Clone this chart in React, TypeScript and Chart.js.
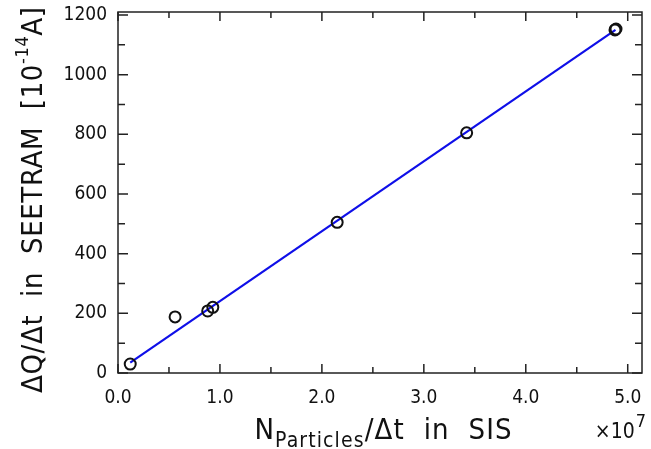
import React, { useEffect, useRef } from "react";
import { Chart, registerables } from "chart.js";

Chart.register(...registerables);

// Data (x in units of 1e7 particles/s, y in 1e-14 A)
const pointX = [0.12, 0.56, 0.88, 0.93, 2.15, 3.42, 4.875, 4.885];
const pointY = [30, 188, 208, 220, 505, 805, 1150, 1153];
const fitX = [0.12, 4.88];
const fitY = [35, 1150];
const xMajorTicks = [0, 1, 2, 3, 4, 5];
const xMinorTicks = [0.5, 1.5, 2.5, 3.5, 4.5];
const yMajorTicks = [0, 200, 400, 600, 800, 1000, 1200];
const yMinorTicks = [100, 300, 500, 700, 900, 1100];
const xRange = [0, 5.14];
const yRange = [0, 1210];

const FONT = "'DejaVu Sans Condensed', 'DejaVu Sans', sans-serif";

type Part = { text: string; size: number; dy: number };

function drawRich(
  ctx: CanvasRenderingContext2D,
  parts: Part[],
  cx: number,
  baseY: number,
  target: number | null
) {
  let natural = 0;
  let nChars = 0;
  for (const p of parts) {
    ctx.font = `${p.size}px ${FONT}`;
    (ctx as any).letterSpacing = "0px";
    natural += ctx.measureText(p.text).width;
    nChars += p.text.length;
  }
  let ls = 0;
  if (target != null && nChars > 1) ls = (target - natural) / (nChars - 1);
  const total = natural + ls * (nChars - 1);
  let x = cx - total / 2;
  ctx.textAlign = "left";
  ctx.textBaseline = "alphabetic";
  for (const p of parts) {
    ctx.font = `${p.size}px ${FONT}`;
    (ctx as any).letterSpacing = `${ls}px`;
    ctx.fillText(p.text, x, baseY + p.dy);
    x += ctx.measureText(p.text).width;
  }
  (ctx as any).letterSpacing = "0px";
}

const framePlugin = {
  id: "framePlugin",
  afterDraw(chart: any) {
    const ctx: CanvasRenderingContext2D = chart.ctx;
    const { left, right, top, bottom } = chart.chartArea;
    const xs = chart.scales.x;
    const ys = chart.scales.y;
    ctx.save();
    ctx.strokeStyle = "#222";
    ctx.lineWidth = 1.5;
    ctx.strokeRect(left, top, right - left, bottom - top);
    const major = 9;
    const minor = 6;
    ctx.beginPath();
    const xt = (v: number, len: number) => {
      const px = xs.getPixelForValue(v);
      ctx.moveTo(px, bottom);
      ctx.lineTo(px, bottom - len);
      ctx.moveTo(px, top);
      ctx.lineTo(px, top + len);
    };
    const yt = (v: number, len: number) => {
      const py = ys.getPixelForValue(v);
      ctx.moveTo(left, py);
      ctx.lineTo(left + len, py);
      ctx.moveTo(right, py);
      ctx.lineTo(right - len, py);
    };
    xMajorTicks.forEach((v) => xt(v, major));
    xMinorTicks.forEach((v) => xt(v, minor));
    yMajorTicks.forEach((v) => yt(v, major + 1));
    yMinorTicks.forEach((v) => yt(v, minor + 1));
    ctx.stroke();

    ctx.fillStyle = "#111";
    // x title
    drawRich(
      ctx,
      [
        { text: "N", size: 29, dy: 0 },
        { text: "Particles", size: 21, dy: 8 },
        { text: "/\u0394t  in  SIS", size: 29, dy: 0 },
      ],
      (left + right) / 2 + 3,
      439,
      257
    );
    // y title (rotated)
    ctx.save();
    ctx.translate(42, 200);
    ctx.rotate(-Math.PI / 2);
    drawRich(
      ctx,
      [
        { text: "\u0394Q/\u0394t  in  SEETRAM  [10", size: 29, dy: 0 },
        { text: "-14", size: 18, dy: -14 },
        { text: "A]", size: 29, dy: 0 },
      ],
      0,
      0,
      386
    );
    ctx.restore();
    // multiplier
    ctx.textAlign = "right";
    ctx.textBaseline = "alphabetic";
    ctx.font = `18px ${FONT}`;
    const w7 = ctx.measureText("7").width;
    ctx.fillText("7", 646, 427);
    ctx.font = `21px ${FONT}`;
    ctx.fillText("\u00d710", 646 - w7 - 1, 438);
    ctx.restore();
  },
};

export default function App() {
  const ref = useRef<HTMLCanvasElement | null>(null);
  useEffect(() => {
    document.body.style.margin = "0";
    const canvas = ref.current;
    if (!canvas) return;
    const chart = new Chart(canvas, {
      type: "scatter",
      data: {
        datasets: [
          {
            label: "data",
            data: pointX.map((x, i) => ({ x, y: pointY[i] })),
            showLine: false,
            pointStyle: "circle",
            pointRadius: 5.5,
            pointBorderWidth: 2,
            pointBackgroundColor: "rgba(0,0,0,0)",
            pointBorderColor: "#111",
          },
          {
            label: "fit",
            data: fitX.map((x, i) => ({ x, y: fitY[i] })),
            showLine: true,
            pointRadius: 0,
            borderColor: "#0f0fe8",
            borderWidth: 2.2,
          },
        ],
      },
      options: {
        responsive: false,
        animation: false,
        layout: { padding: { top: 12, right: 9, left: 0, bottom: 0 } },
        plugins: { legend: { display: false }, tooltip: { enabled: false } },
        scales: {
          x: {
            type: "linear",
            min: xRange[0],
            max: xRange[1],
            afterBuildTicks: (s: any) => {
              s.ticks = xMajorTicks.map((v) => ({ value: v }));
            },
            afterFit: (s: any) => {
              s.height = 76;
              s.paddingLeft = 0;
              s.paddingRight = 0;
            },
            grid: { display: false, drawTicks: false },
            border: { display: false },
            ticks: {
              padding: 14,
              color: "#111",
              font: { family: FONT, size: 19 },
              maxRotation: 0,
              callback: (v: any) => Number(v).toFixed(1),
            },
          },
          y: {
            type: "linear",
            min: yRange[0],
            max: yRange[1],
            afterBuildTicks: (s: any) => {
              s.ticks = yMajorTicks.map((v) => ({ value: v }));
            },
            afterFit: (s: any) => {
              s.width = 118;
              s.paddingTop = 0;
              s.paddingBottom = 0;
            },
            grid: { display: false, drawTicks: false },
            border: { display: false },
            ticks: {
              padding: 11,
              color: "#111",
              font: { family: FONT, size: 19 },
              callback: (v: any) => String(v),
            },
          },
        },
      },
      plugins: [framePlugin],
    });
    return () => chart.destroy();
  }, []);
  return (
    <div style={{ width: 651, height: 449, background: "#fff" }}>
      <canvas ref={ref} width={651} height={449} style={{ display: "block" }} />
    </div>
  );
}
